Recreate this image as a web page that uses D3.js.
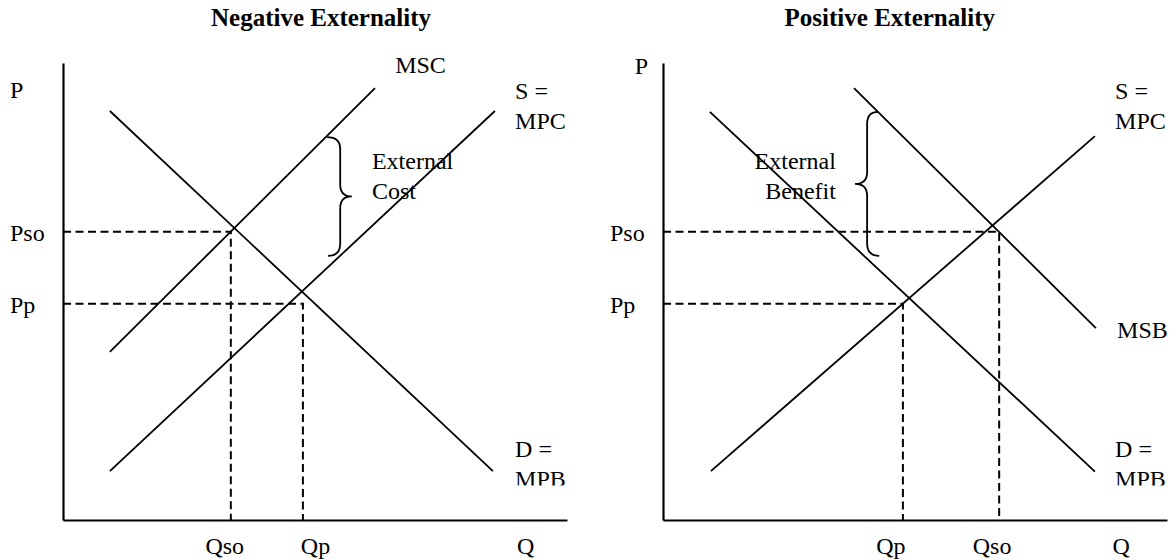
<!DOCTYPE html>
<html>
<head>
<meta charset="utf-8">
<script src="https://cdn.jsdelivr.net/npm/d3@7"></script>
<style>
  body { margin: 0; background: #fff; }
  svg text { font-family: "Liberation Serif", "Times New Roman", serif; fill: #000; }
</style>
</head>
<body>
<svg id="chart"></svg>
<script>
// chart units: Q runs 0-10 along x, P runs 0-10 along y
const titles = ['Negative Externality', 'Positive Externality'];

const negCurves = [
  {name: 'D', pts: [[0.93, 8.95], [8.53, 1.07]]},
  {name: 'S', pts: [[0.93, 1.07], [8.57, 8.95]]},
  {name: 'MSC', pts: [[0.93, 3.68], [6.19, 9.45]]}
];
const posCurves = [
  {name: 'D', pts: [[0.93, 8.93], [8.57, 1.06]]},
  {name: 'S', pts: [[0.95, 1.07], [8.57, 8.40]]},
  {name: 'MSB', pts: [[3.79, 9.45], [8.59, 4.20]]}
];

// dashed equilibrium guides [Q, P]
const negGuides = [[3.33, 6.31], [4.76, 4.73]];
const posGuides = [[6.67, 6.31], [4.76, 4.73]];

// price tick labels on the P axis
const negPTicks = [{p: 6.31, label: 'Pso'}, {p: 4.73, label: 'Pp'}];
const posPTicks = [{p: 6.31, label: 'Pso'}, {p: 4.73, label: 'Pp'}];

// quantity labels under the Q axis
const negQLabels = [{q: 3.21, label: 'Qso'}, {q: 5.01, label: 'Qp'}, {q: 9.18, label: 'Q'}];
const posQLabels = [{q: 4.52, label: 'Qp'}, {q: 6.53, label: 'Qso'}, {q: 9.09, label: 'Q'}];

// braces: top end, bottom end, stem Q, tip Q
const negBrace = {top: [5.24, 8.38], bottom: [5.26, 5.78], stem: 5.50, tip: 5.73};
const posBrace = {top: [4.27, 8.93], bottom: [4.29, 5.78], stem: 4.05, tip: 3.81};

// curve / annotation labels
const negLabels = [
  {lines: ['P'], q: -1.05, p: 9.23},
  {lines: ['MSC'], q: 6.59, p: 9.78},
  {lines: ['S =', 'MPC'], q: 8.97, p: 9.21},
  {lines: ['External', 'Cost'], q: 6.13, p: 7.68},
  {lines: ['D =', 'MPB'], q: 8.97, p: 1.38, clip: true}
];
const posLabels = [
  {lines: ['P'], q: -0.56, p: 9.76},
  {lines: ['S =', 'MPC'], q: 8.97, p: 9.21},
  {lines: ['MSB'], q: 9.01, p: 3.98},
  {lines: ['External', 'Benefit'], q: 3.43, p: 7.68, anchor: 'end'},
  {lines: ['D =', 'MPB'], q: 8.97, p: 1.38, clip: true}
];

const width = 1173, height = 560;
const fontSize = 24;

const svg = d3.select('#chart')
  .attr('width', width)
  .attr('height', height);

// MPB text is cut off at the bottom in the original
svg.append('defs').append('clipPath')
  .attr('id', 'textclip')
  .append('rect')
  .attr('x', 0).attr('y', 0)
  .attr('width', width).attr('height', 485.5);

const panels = [
  {title: titles[0], x0: 63, curves: negCurves, guides: negGuides, pTicks: negPTicks,
   qLabels: negQLabels, brace: negBrace, braceDir: 1, labels: negLabels},
  {title: titles[1], x0: 663, curves: posCurves, guides: posGuides, pTicks: posPTicks,
   qLabels: posQLabels, brace: posBrace, braceDir: -1, labels: posLabels}
];

panels.forEach(panel => {
  let xScale = d3.scaleLinear().domain([0, 10]).range([panel.x0, panel.x0 + 504]);
  let yScale = d3.scaleLinear().domain([0, 10]).range([520, 63]);

  let line = d3.line()
    .x(d => xScale(d[0]))
    .y(d => yScale(d[1]));

  let g = svg.append('g');

  // title
  g.append('text')
    .attr('x', xScale(panel.title === titles[0] ? 5.12 : 4.5))
    .attr('y', yScale(10.8))
    .style('font-size', '25px')
    .style('font-weight', 'bold')
    .style('text-anchor', 'middle')
    .text(panel.title);

  // axes
  let yAxis = d3.axisLeft(yScale).tickValues([]).tickSizeOuter(0);
  let xAxis = d3.axisBottom(xScale).tickValues([]).tickSizeOuter(0);

  g.append('g')
    .attr('transform', `translate(${panel.x0},0)`)
    .call(yAxis)
    .select('.domain')
    .attr('stroke-width', 2.2);

  g.append('g')
    .attr('transform', `translate(0,${yScale(0)})`)
    .call(xAxis)
    .select('.domain')
    .attr('stroke-width', 2.2);

  // dashed guides
  g.selectAll('.guide')
    .data(panel.guides)
    .enter()
    .append('path')
    .attr('class', 'guide')
    .attr('d', d => line([[0, d[1]], [d[0], d[1]], [d[0], 0]]))
    .attr('fill', 'none')
    .attr('stroke', '#000')
    .attr('stroke-width', 2)
    .attr('stroke-dasharray', '8,4.5');

  // curves
  g.selectAll('.curve')
    .data(panel.curves)
    .enter()
    .append('path')
    .attr('class', 'curve')
    .attr('d', d => line(d.pts))
    .attr('fill', 'none')
    .attr('stroke', '#000')
    .attr('stroke-width', 1.8);

  // brace
  let b = panel.brace;
  let xt = xScale(b.top[0]), yt = yScale(b.top[1]);
  let xb = xScale(b.bottom[0]), yb = yScale(b.bottom[1]);
  let xs = xScale(b.stem), xtip = xScale(b.tip);
  let ym = (yt + yb) / 2;
  let r = 12;
  let path = d3.path();
  path.moveTo(xt, yt);
  path.quadraticCurveTo(xs, yt, xs, yt + r);
  path.lineTo(xs, ym - r);
  path.quadraticCurveTo(xs, ym, xtip, ym);
  path.quadraticCurveTo(xs, ym, xs, ym + r);
  path.lineTo(xs, yb - r);
  path.quadraticCurveTo(xs, yb, xb, yb);
  g.append('path')
    .attr('d', path.toString())
    .attr('fill', 'none')
    .attr('stroke', '#000')
    .attr('stroke-width', 1.8);

  // P tick labels, left aligned like the original text boxes
  g.selectAll('.ptick')
    .data(panel.pTicks)
    .enter()
    .append('text')
    .attr('class', 'ptick')
    .attr('x', panel.x0 - 53)
    .attr('y', d => yScale(d.p) + 9)
    .style('font-size', fontSize + 'px')
    .text(d => d.label);

  // Q labels
  g.selectAll('.qlabel')
    .data(panel.qLabels)
    .enter()
    .append('text')
    .attr('class', 'qlabel')
    .attr('x', d => xScale(d.q))
    .attr('y', yScale(0) + 34)
    .style('font-size', fontSize + 'px')
    .style('text-anchor', 'middle')
    .text(d => d.label);

  // other labels
  let labels = g.selectAll('.label')
    .data(panel.labels)
    .enter()
    .append('text')
    .attr('class', 'label')
    .attr('x', d => xScale(d.q))
    .attr('y', d => yScale(d.p))
    .attr('clip-path', d => d.clip ? 'url(#textclip)' : null)
    .style('font-size', fontSize + 'px')
    .style('text-anchor', d => d.anchor || 'start');

  labels.selectAll('tspan')
    .data(d => d.lines.map((t, i) => ({t: t, i: i, q: d.q})))
    .enter()
    .append('tspan')
    .attr('x', d => xScale(d.q))
    .attr('dy', d => d.i === 0 ? 0 : 30)
    .text(d => d.t);
});
</script>
</body>
</html>
